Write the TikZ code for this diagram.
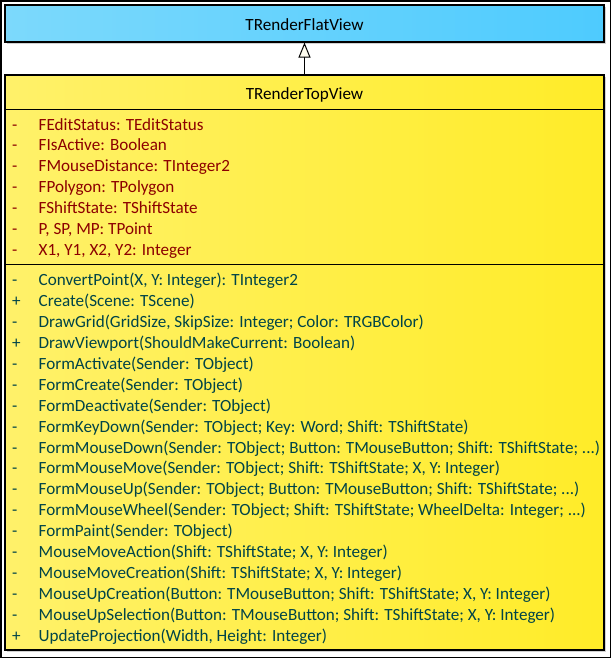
\documentclass[tikz,border=0pt]{standalone}
\usepackage{fontspec}
\setmainfont{Carlito}
\usetikzlibrary{positioning}
\usetikzlibrary{arrows.meta}
\usetikzlibrary{shadows}

\definecolor{flatleft}{RGB}{124,217,252}
\definecolor{flatright}{RGB}{78,203,254}
\definecolor{topleft}{RGB}{255,241,106}
\definecolor{topright}{RGB}{255,236,40}
\definecolor{attrred}{RGB}{140,0,0}
\definecolor{methteal}{RGB}{0,68,72}
\definecolor{tipfill}{RGB}{255,253,240}

\begin{document}
\begin{tikzpicture}[x=1pt,y=-1pt,font=\fontsize{17.1}{20}\selectfont]
	\tikzstyle{classbox}=[draw,line width=1.1pt,inner sep=0pt,minimum width=599pt,
		drop shadow={shadow xshift=2pt,shadow yshift=-2pt,fill=black!18,opacity=1}]
	\tikzstyle{classname}=[inner sep=0pt,anchor=base,text=black]
	\tikzstyle{attr}=[inner sep=0pt,anchor=base west,text=attrred]
	\tikzstyle{meth}=[inner sep=0pt,anchor=base west,text=methteal]
	\tikzstyle{sep}=[line width=1.1pt]
	
	\useasboundingbox (0,0) rectangle (612,659);
	\draw[line width=1.2pt] (1,1) rectangle (610.5,657.5);
	
	\node[classbox,minimum height=37pt,left color=flatleft,right color=flatright] (FlatView) at (304.5,23.5) {};
	\node[classbox,minimum height=575pt,left color=topleft,right color=topright] (TopView) at (304.5,362.5) {};
	
	\node[classname] (FlatName) at (304.5,30.5) {TRenderFlatView};
	\node[classname] (TopName) at (304.5,99.3) {TRenderTopView};
	
	\draw[sep] ([yshift=-35pt]TopView.north west) -- ([yshift=-35pt]TopView.north east);
	\draw[sep] ([yshift=-190pt]TopView.north west) -- ([yshift=-190pt]TopView.north east);
	
	% inheritance
	\draw[line width=1pt,-{Triangle[length=15pt,width=12pt,fill=tipfill]}] (TopView.north) -- (FlatView.south);
	
	% attributes
	\foreach \t [count=\i from 0] in {{FEditStatus: TEditStatus},{FIsActive: Boolean},
		{FMouseDistance: TInteger2},{FPolygon: TPolygon},{FShiftState: TShiftState},
		{P, SP, MP: TPoint},{X1, Y1, X2, Y2: Integer}}
	{
		\node[attr] (ak\i) at (12,{130+20.9*\i}) {-};
		\node[attr] (a\i) at (38.5,{130+20.9*\i}) {\t};
	}
	
	% methods
	\foreach \m/\t [count=\i from 0] in {-/{ConvertPoint(X, Y: Integer): TInteger2},
		+/{Create(Scene: TScene)},
		-/{DrawGrid(GridSize, SkipSize: Integer; Color: TRGBColor)},
		+/{DrawViewport(ShouldMakeCurrent: Boolean)},
		-/{FormActivate(Sender: TObject)},
		-/{FormCreate(Sender: TObject)},
		-/{FormDeactivate(Sender: TObject)},
		-/{FormKeyDown(Sender: TObject; Key: Word; Shift: TShiftState)},
		-/{FormMouseDown(Sender: TObject; Button: TMouseButton; Shift: TShiftState; ...)},
		-/{FormMouseMove(Sender: TObject; Shift: TShiftState; X, Y: Integer)},
		-/{FormMouseUp(Sender: TObject; Button: TMouseButton; Shift: TShiftState; ...)},
		-/{FormMouseWheel(Sender: TObject; Shift: TShiftState; WheelDelta: Integer; ...)},
		-/{FormPaint(Sender: TObject)},
		-/{MouseMoveAction(Shift: TShiftState; X, Y: Integer)},
		-/{MouseMoveCreation(Shift: TShiftState; X, Y: Integer)},
		-/{MouseUpCreation(Button: TMouseButton; Shift: TShiftState; X, Y: Integer)},
		-/{MouseUpSelection(Button: TMouseButton; Shift: TShiftState; X, Y: Integer)},
		+/{UpdateProjection(Width, Height: Integer)}}
	{
		\node[meth] (mk\i) at (12,{285.5+20.94*\i}) {\m};
		\node[meth] (m\i) at (38.5,{285.5+20.94*\i}) {\t};
	}
\end{tikzpicture}
\end{document}
